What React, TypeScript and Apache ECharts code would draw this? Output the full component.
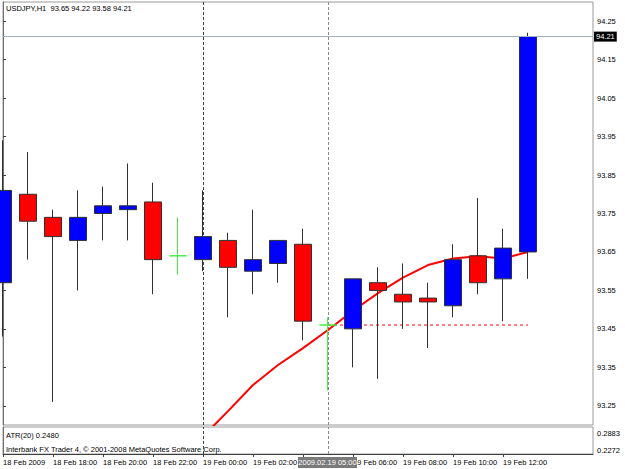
import { useEffect, useRef } from 'react';
import * as echarts from 'echarts';

const symbolName = 'USDJPY,H1';
const times = [
  '18 Feb 16:00', '18 Feb 17:00', '18 Feb 18:00', '18 Feb 19:00', '18 Feb 20:00', '18 Feb 21:00',
  '18 Feb 22:00', '18 Feb 23:00', '19 Feb 00:00', '19 Feb 01:00', '19 Feb 02:00', '19 Feb 03:00',
  '19 Feb 04:00', '19 Feb 05:00', '19 Feb 06:00', '19 Feb 07:00', '19 Feb 08:00', '19 Feb 09:00',
  '19 Feb 10:00', '19 Feb 11:00', '19 Feb 12:00', '19 Feb 13:00',
];
const opens = [93.57, 93.80, 93.74, 93.68, 93.75, 93.76, 93.78, 93.64, 93.63, 93.68, 93.60, 93.62, 93.67, 93.46, 93.45, 93.57, 93.54, 93.53, 93.51, 93.64, 93.58, 93.65];
const closes = [93.81, 93.73, 93.69, 93.74, 93.77, 93.77, 93.63, 93.64, 93.69, 93.61, 93.63, 93.68, 93.47, 93.46, 93.58, 93.55, 93.52, 93.52, 93.63, 93.57, 93.66, 94.21];
const lows = [93.43, 93.63, 93.26, 93.55, 93.68, 93.68, 93.54, 93.59, 93.60, 93.48, 93.54, 93.57, 93.42, 93.29, 93.35, 93.32, 93.45, 93.40, 93.48, 93.54, 93.47, 93.58];
const highs = [93.94, 93.91, 93.76, 93.81, 93.82, 93.88, 93.83, 93.74, 93.81, 93.70, 93.76, 93.68, 93.71, 93.48, 93.58, 93.61, 93.62, 93.57, 93.67, 93.79, 93.71, 94.22];
const maValues: (number | null)[] = [
  null, null, null, null, null, null, null, null,
  93.17, 93.236, 93.304, 93.356, 93.40, 93.447, 93.497, 93.543, 93.583, 93.616, 93.633, 93.639, 93.633, 93.65,
];
const priceTicks = [93.25, 93.35, 93.45, 93.55, 93.65, 93.75, 93.85, 93.95, 94.05, 94.15, 94.25];
const timeTickIndex = [0, 2, 4, 6, 8, 10, 12, 14, 16, 18, 20];
// the 04:00 label sits under the highlighted vertical-line date box, so it is not shown
const timeTickLabels = ['18 Feb 2009', '18 Feb 18:00', '18 Feb 20:00', '18 Feb 22:00', '19 Feb 00:00', '19 Feb 02:00', '', '19 Feb 06:00', '19 Feb 08:00', '19 Feb 10:00', '19 Feb 12:00'];
const atrName = 'ATR(20)';
const atrValue = 0.248;
const atrTicks = [0.2272, 0.2883];
const daySeparatorIndex = 8;
const vLineIndex = 13;
const vLineLabel = '2009.02.19 05:00';
const levelLine = { from: 13, to: 21, value: 93.46 };
const copyright = 'Interbank FX Trader 4, © 2001-2008 MetaQuotes Software Corp.';

const FONT = 'Liberation Sans';
const FS = 7.5;

export default function App() {
  const ref = useRef<HTMLDivElement>(null);
  useEffect(() => {
    document.body.style.margin = '0';
    if (!ref.current) return;
    const chart = echarts.init(ref.current, undefined, { renderer: 'svg' });
    const last = times.length - 1;
    const header = `${symbolName}  ${opens[last].toFixed(2)} ${highs[last].toFixed(2)} ${lows[last].toFixed(2)} ${closes[last].toFixed(2)}`;
    const doji = '#44ee44';
    const candleData = times.map((_, i) => {
      const item: any = { value: [i, opens[i], closes[i], lows[i], highs[i]] };
      if (opens[i] === closes[i]) {
        item.itemStyle = { color: doji, color0: doji, borderColor: doji, borderColor0: doji, borderColorDoji: doji };
      }
      return item;
    });
    const xMin = 0;
    const xMax = 23.6;
    const vLines = () => ({
      silent: true,
      z: 0,
      symbol: ['none', 'none'],
      animation: false,
      label: { show: false },
      data: [
        { xAxis: daySeparatorIndex, lineStyle: { color: '#404040', type: [3, 2], width: 1 } },
        { xAxis: vLineIndex, lineStyle: { color: '#8a8a8a', type: [3, 2], width: 1 } },
      ],
    });
    const option: any = {
      animation: false,
      backgroundColor: '#ffffff',
      textStyle: { fontFamily: FONT },
      grid: [
        { left: 3, top: 2, width: 590, height: 423, show: true, borderColor: '#9a9a9a', borderWidth: 1, backgroundColor: 'transparent' },
        { left: 3, top: 427, width: 590, height: 27, show: true, borderColor: '#9a9a9a', borderWidth: 1, backgroundColor: 'transparent' },
      ],
      xAxis: [
        { type: 'value', gridIndex: 0, min: xMin, max: xMax, show: false, splitLine: { show: false } },
        {
          type: 'value', gridIndex: 1, min: xMin, max: xMax,
          splitLine: { show: false },
          axisLine: { show: true, lineStyle: { color: '#404040' } },
          axisTick: { show: true, length: 3, inside: false, customValues: timeTickIndex, lineStyle: { color: '#404040' } },
          axisLabel: {
            customValues: timeTickIndex,
            formatter: (v: number) => timeTickLabels[timeTickIndex.indexOf(Math.round(v))] ?? '',
            align: 'left', margin: 4, fontSize: FS, color: '#000', fontFamily: FONT,
          },
        },
      ],
      yAxis: [
        {
          type: 'value', gridIndex: 0, position: 'right', min: 93.2, max: 94.3,
          splitLine: { show: false },
          axisLine: { show: true, lineStyle: { color: '#707070' } },
          axisTick: { show: true, length: 3, inside: false, customValues: priceTicks, lineStyle: { color: '#404040' } },
          axisLabel: { customValues: priceTicks, formatter: (v: number) => v.toFixed(2), margin: 4, fontSize: FS, color: '#000', fontFamily: FONT },
        },
        {
          type: 'value', gridIndex: 1, position: 'right', min: 0.2126, max: 0.3114,
          splitLine: { show: false },
          axisLine: { show: true, lineStyle: { color: '#707070' } },
          axisTick: { show: false, customValues: atrTicks },
          axisLabel: { customValues: atrTicks, formatter: (v: number) => v.toFixed(4), margin: 4, fontSize: FS, color: '#000', fontFamily: FONT },
        },
      ],
      series: [
        {
          type: 'line', xAxisIndex: 0, yAxisIndex: 0, z: 1,
          data: [[levelLine.from, levelLine.value], [levelLine.to, levelLine.value]],
          symbol: 'none', lineStyle: { color: '#ff0000', width: 1, type: [3, 3] },
          markLine: vLines(),
        },
        {
          type: 'line', xAxisIndex: 0, yAxisIndex: 0, z: 2,
          data: maValues.map((v, i) => [i, v]),
          symbol: 'none', connectNulls: false,
          lineStyle: { color: '#ff0000', width: 2 },
        },
        {
          type: 'candlestick', xAxisIndex: 0, yAxisIndex: 0, z: 3,
          barWidth: 18,
          itemStyle: { color: '#0000ff', color0: '#ff0000', borderColor: '#303030', borderColor0: '#303030', borderColorDoji: doji, borderWidth: 1 },
          data: candleData,
          markLine: {
            silent: true, symbol: ['none', 'none'], animation: false,
            data: [
              {
                yAxis: closes[last],
                lineStyle: { color: '#a3b0c0', type: 'solid', width: 1 },
                label: {
                  show: true, position: 'end', formatter: closes[last].toFixed(2), distance: 1,
                  color: '#ffffff', backgroundColor: '#000000', padding: [1, 2, 1, 2],
                  fontSize: FS, fontFamily: FONT,
                },
              },
            ],
          },
        },
        {
          type: 'line', xAxisIndex: 1, yAxisIndex: 1, data: [],
          markLine: vLines(),
        },
      ],
      graphic: [
        { type: 'text', left: 6, top: 4, z: 50, style: { text: header, fontSize: FS, fontFamily: FONT, fill: '#000' } },
        { type: 'text', left: 6, top: 431, z: 50, style: { text: `${atrName} ${atrValue.toFixed(4)}`, fontSize: FS, fontFamily: FONT, fill: '#000' } },
        { type: 'text', left: 6, top: 445, z: 50, style: { text: copyright, fontSize: FS, fontFamily: FONT, fill: '#000' } },
        {
          type: 'group', left: 298, top: 457, z: 100,
          children: [
            { type: 'rect', z: 100, shape: { x: 0, y: 0, width: 59, height: 11 }, style: { fill: '#7a7a7a' } },
            { type: 'text', z: 101, x: 29.5, y: 5.5, style: { text: vLineLabel, fontSize: FS, fontFamily: FONT, fill: '#ffffff', align: 'center', verticalAlign: 'middle' } },
          ],
        },
      ],
    };
    chart.setOption(option);
    return () => chart.dispose();
  }, []);
  return <div ref={ref} style={{ width: 625, height: 469 }} />;
}
